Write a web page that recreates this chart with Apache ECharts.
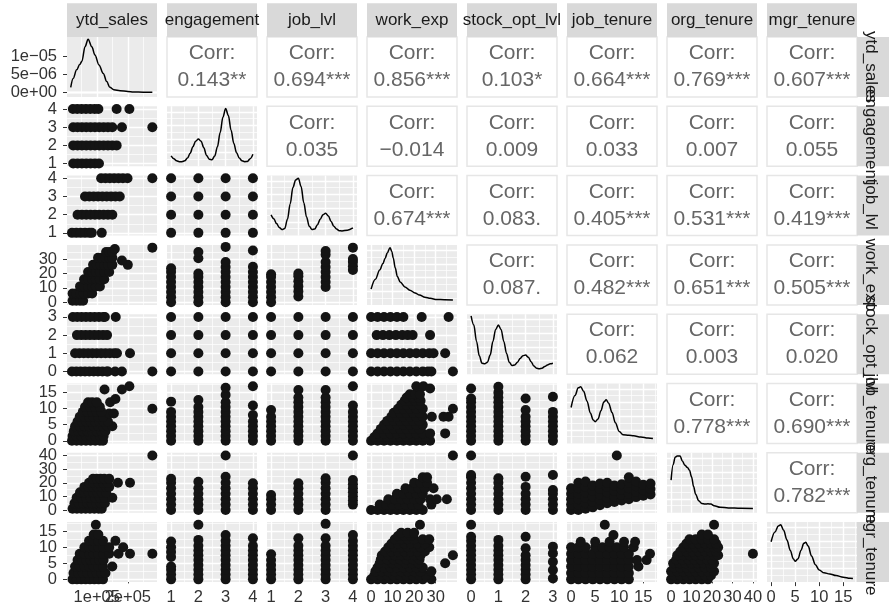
<!DOCTYPE html>
<html><head><meta charset="utf-8">
<script src="https://cdn.jsdelivr.net/npm/echarts@6/dist/echarts.min.js"></script>
<style>html,body{margin:0;padding:0;background:#fff}#c{width:889px;height:606px}</style>
</head><body><div id="c"></div>
<script>
const FONT = '"Liberation Sans", Arial, Helvetica, sans-serif';
const varNames = ['ytd_sales','engagement','job_lvl','work_exp','stock_opt_lvl','job_tenure','org_tenure','mgr_tenure'];
const axisRanges = [[4000,294000],[0.85,4.15],[0.85,4.15],[-1.9,39.9],[-0.15,3.15],[-0.85,17.85],[-2,42],[-0.85,17.85]];
const majorBreaks = [[1e5,2e5],[1,2,3,4],[1,2,3,4],[0,10,20,30],[0,1,2,3],[0,5,10,15],[0,10,20,30,40],[0,5,10,15]];
const minorBreaks = [[5e4,1.5e5,2.5e5],[1.5,2.5,3.5],[1.5,2.5,3.5],[5,15,25,35],[0.5,1.5,2.5],[2.5,7.5,12.5,17.5],[5,15,25,35],[2.5,7.5,12.5,17.5]];
const breakLabels = [['1e+05','2e+05'],['1','2','3','4'],['1','2','3','4'],['0','10','20','30'],['0','1','2','3'],['0','5','10','15'],['0','10','20','30','40'],['0','5','10','15']];
const densRange0 = [-1.32e-6, 1.553e-5];
const densMajor0 = [0, 5e-6, 1e-5];
const densMinor0 = [2.5e-6, 7.5e-6, 1.25e-5];
const densLabels0 = ['0e+00', '5e\u221206', '1e\u221205'];
const densRangeOther = [0, 1.1];
const densMajorOther = [0.25, 0.5, 0.75, 1.0];
const densMinorOther = [0.125, 0.375, 0.625, 0.875];

const corrLabels = [
  ['0.143**','0.694***','0.856***','0.103*','0.664***','0.769***','0.607***'],
  ['0.035','\u22120.014','0.009','0.033','0.007','0.055'],
  ['0.674***','0.083.','0.405***','0.531***','0.419***'],
  ['0.087.','0.482***','0.651***','0.505***'],
  ['0.062','0.003','0.020'],
  ['0.778***','0.690***'],
  ['0.782***']
];

// density curves (diagonal)
const dens_ytd = [[16e3,1.41e-6],[24e3,3.9e-6],[35e3,6.3e-6],[45e3,7.8e-6],[52e3,8.7e-6],[62e3,1.28e-5],[72e3,1.49e-5],[84e3,1.28e-5],[94e3,1.05e-5],[107e3,7.7e-6],[121e3,5.3e-6],[132e3,3.0e-6],[142e3,1.4e-6],[155e3,7e-7],[175e3,4.5e-7],[200e3,2.2e-7],[218e3,9e-8],[250e3,3e-8],[279e3,1e-8]];
const dens_eng = [[1.0,0.19],[1.1,0.14],[1.2,0.10],[1.3,0.085],[1.4,0.085],[1.5,0.10],[1.6,0.15],[1.7,0.24],[1.8,0.36],[1.9,0.46],[2.0,0.50],[2.1,0.46],[2.2,0.34],[2.3,0.20],[2.4,0.13],[2.5,0.12],[2.6,0.19],[2.7,0.36],[2.8,0.62],[2.9,0.90],[3.0,1.06],[3.1,0.93],[3.2,0.66],[3.3,0.42],[3.4,0.25],[3.5,0.15],[3.6,0.10],[3.7,0.085],[3.8,0.09],[3.9,0.14],[4.0,0.22]];
const dens_lvl = [[1.0,0.38],[1.1,0.31],[1.2,0.22],[1.3,0.15],[1.4,0.11],[1.5,0.13],[1.6,0.30],[1.7,0.58],[1.8,0.88],[1.9,1.02],[2.0,1.05],[2.1,0.90],[2.2,0.60],[2.3,0.34],[2.4,0.17],[2.5,0.11],[2.6,0.12],[2.7,0.20],[2.8,0.30],[2.9,0.38],[3.0,0.41],[3.1,0.36],[3.2,0.26],[3.3,0.17],[3.4,0.12],[3.5,0.09],[3.6,0.085],[3.8,0.10],[4.0,0.14]];
const dens_we = [[0,0.29],[2,0.47],[4,0.64],[5.5,0.76],[6.5,0.85],[7.5,0.95],[8.8,1.05],[9.6,0.98],[10.3,0.86],[11.2,0.68],[12.2,0.52],[13.5,0.42],[15.7,0.33],[18,0.27],[20.4,0.22],[22.5,0.18],[25,0.14],[27.5,0.12],[30.5,0.10],[34,0.095],[38,0.09]];
const dens_stock = [[0,1.07],[0.1,0.90],[0.2,0.60],[0.3,0.34],[0.4,0.20],[0.5,0.19],[0.6,0.22],[0.7,0.35],[0.8,0.60],[0.9,0.82],[1.0,0.90],[1.1,0.82],[1.2,0.60],[1.3,0.38],[1.4,0.22],[1.5,0.16],[1.6,0.17],[1.7,0.22],[1.8,0.29],[1.9,0.34],[2.0,0.35],[2.1,0.31],[2.2,0.23],[2.3,0.15],[2.4,0.11],[2.5,0.10],[2.6,0.11],[2.7,0.14],[2.8,0.17],[2.9,0.19],[3.0,0.20]];
const dens_jt = [[0,0.66],[0.8,0.88],[1.5,1.02],[2.0,1.04],[2.6,0.96],[3.3,0.78],[4.0,0.56],[4.6,0.43],[5.0,0.40],[5.6,0.45],[6.2,0.60],[6.8,0.76],[7.3,0.80],[7.8,0.74],[8.5,0.57],[9.2,0.38],[10.0,0.22],[10.8,0.16],[12,0.15],[13,0.14],[14.5,0.12],[16,0.10],[17,0.09]];
const dens_org = [[0,0.60],[1,0.88],[2,1.02],[3,1.04],[4.4,1.04],[5.5,0.95],[6.8,0.87],[8,0.83],[9,0.78],[10,0.66],[11,0.48],[12,0.34],[13.5,0.22],[15,0.17],[16.6,0.16],[18,0.165],[19.5,0.16],[21,0.13],[24,0.10],[28,0.09],[34,0.083],[40,0.08]];
const dens_mgr = [[0,0.74],[0.8,0.92],[1.5,1.03],[2.0,1.05],[2.6,0.95],[3.3,0.77],[4.0,0.58],[4.6,0.43],[5.0,0.38],[5.6,0.43],[6.2,0.58],[6.8,0.71],[7.2,0.73],[7.7,0.66],[8.4,0.48],[9.2,0.32],[10,0.22],[11,0.17],[12.2,0.15],[13.5,0.12],[15,0.09],[16.4,0.07],[17,0.065]];
const diagCurves = [dens_ytd, dens_eng, dens_lvl, dens_we, dens_stock, dens_jt, dens_org, dens_mgr];

// scatter panels. 'row' groups: [y, [x...]]; 'col' groups: [x, [y...]]
const eng_ytd = [[4,[23e3,37e3,51e3,65e3,79e3,93e3,105e3,164e3,205e3]],[3,[24e3,38e3,52e3,66e3,80e3,94e3,108e3,122e3,136e3,150e3,181e3,279e3]],[2,[24e3,38e3,52e3,66e3,80e3,94e3,108e3,122e3,136e3,150e3,164e3]],[1,[24e3,38e3,52e3,66e3,80e3,94e3,107e3]]];
const lvl_ytd = [[4,[114e3,128e3,142e3,156e3,170e3,184e3,199e3,279e3]],[3,[62e3,76e3,90e3,104e3,118e3,132e3,146e3,160e3,174e3]],[2,[38e3,52e3,66e3,80e3,94e3,108e3,122e3,136e3,150e3]],[1,[20e3,34e3,48e3,62e3,76e3,84e3,116e3]]];
const we_ytd = [[1,[22e3,34e3,46e3,56e3]],[6,[22e3,34e3,46e3,58e3,72e3,85e3]],[11,[46e3,58e3,72e3,85e3,97e3,110e3]],[16,[59e3,72e3,85e3,97e3,110e3,124e3]],[21,[72e3,85e3,97e3,110e3,124e3,140e3]],[26,[88e3,100e3,112e3,124e3,136e3,150e3,200e3]],[31,[104e3,116e3,128e3,140e3,150e3]],[35,[130e3,140e3,150e3]],[37,[158e3]],[29,[181e3]],[38,[279e3]]];
const stock_ytd = [[3,[23e3,37e3,51e3,65e3,79e3,93e3,107e3,121e3,126e3,161e3]],[2,[36e3,50e3,64e3,78e3,92e3,106e3,120e3,133e3]],[1,[30e3,44e3,58e3,72e3,86e3,100e3,114e3,128e3,142e3,156e3,165e3,207e3]],[0,[20e3,34e3,48e3,62e3,76e3,90e3,104e3,118e3,132e3,136e3,159e3,181e3,279e3]]];
const jt_ytd = [[0,[20e3,35e3,50e3,65e3,80e3,95e3,110e3,120e3]],[1.5,[22e3,35e3,50e3,65e3,80e3,95e3,110e3,122e3]],[3,[26e3,40e3,55e3,70e3,85e3,100e3,115e3,128e3]],[4.5,[30e3,45e3,60e3,75e3,90e3,105e3,120e3,135e3,150e3]],[6,[38e3,52e3,66e3,80e3,94e3,108e3,122e3,136e3]],[7.5,[45e3,60e3,75e3,90e3,105e3,120e3]],[8.5,[140e3,155e3]],[9,[55e3,70e3,85e3,100e3,115e3]],[10.5,[62e3,78e3,94e3,110e3]],[12,[72e3,85e3,100e3,143e3]],[13,[160e3]],[16,[125e3,181e3]],[17,[205e3]],[10,[279e3]]];
const org_ytd = [[1,[22e3,36e3,50e3,64e3,78e3,92e3,106e3,116e3]],[5,[28e3,42e3,56e3,70e3,84e3,98e3,112e3,126e3]],[9,[35e3,50e3,65e3,80e3,95e3,110e3,125e3,150e3]],[13,[46e3,60e3,74e3,88e3,102e3,116e3,130e3]],[17,[60e3,74e3,88e3,102e3,116e3,130e3,140e3]],[20,[75e3,90e3,105e3,120e3,135e3,168e3,207e3]],[23,[88e3,100e3,112e3,124e3,140e3]],[40,[279e3]]];
const mgr_ytd = [[0,[22e3,36e3,50e3,64e3,78e3,92e3,106e3,120e3]],[2,[25e3,40e3,55e3,70e3,85e3,100e3,115e3,128e3]],[4,[30e3,45e3,60e3,75e3,90e3,105e3,120e3,150e3]],[6,[38e3,52e3,66e3,80e3,94e3,108e3,122e3]],[8,[45e3,60e3,75e3,90e3,105e3,120e3,140e3,170e3,207e3,279e3]],[10,[60e3,75e3,90e3,105e3,120e3,140e3,185e3]],[12,[75e3,90e3,105e3,120e3,160e3]],[14,[90e3,105e3]],[17,[97e3]]];

const lvl_eng = [[1,[1,2,3,4]],[2,[1,2,3,4]],[3,[1,2,3,4]],[4,[1,2,3,4]]];
const we_eng = [[1,[0,3.5,7,10.5,14,17.5,21,23.6]],[2,[0,3.5,7,10.5,14,17.5,20,30.6,35]],[3,[0,3.5,7,10.5,14,17.5,21,24.5,28,38.5]],[4,[0,3.5,7,10.5,14,17.5,21,24.7,36]]];
const stock_eng = [[1,[0,1,2,3]],[2,[0,1,2,3]],[3,[0,1,2,3]],[4,[0,1,2,3]]];
const jt_eng = [[1,[0,1.5,3,4.5,6,7.5,9,12.2]],[2,[0,1.5,3,4.5,6,7.5,9,10.5,12.7]],[3,[0,1.5,3,4.5,6,7.5,9,10.5,12,14.3,16.5]],[4,[0,1.5,3,4.5,6,8,11,17]]];
const org_eng = [[1,[0,4,8,12,16,20,23]],[2,[0,4,8,12,16,20.8]],[3,[0,4,8,12,16,20,24.5,40]],[4,[0,4,8,12,16,19.6]]];
const mgr_eng = [[1,[0,1.5,3,4,7,8.5,10,11.8]],[2,[0,1.5,3,4.5,6,7.5,9,10.5,12.3,17]],[3,[0,1.5,3,4.5,6,7.5,9,10.5,12,13.8]],[4,[0,1.5,3,4.5,6,7.5,9,10.5,12.8]]];

const we_lvl = [[1,[0,3.5,7,10.5,14,17.5,19.4]],[2,[4,7.5,11,14.5,18,20]],[3,[10.6,14,17.5,21,24.5,28,33,35.6]],[4,[22.4,25,28,30,38]]];
const stock_lvl = [[1,[0,1,2,3]],[2,[0,1,2,3]],[3,[0,1,2,3]],[4,[0,1,2,3]]];
const jt_lvl = [[1,[0,1.5,3,4.5,6,7.5,9.6]],[2,[0,1.5,3,4.5,6,7.5,9,10.5,12,13.5,15.8]],[3,[0,1.5,3,4.5,6,7.5,9,10.5,12,13.5,15.8]],[4,[0,1.5,3,4.5,6,7.5,9,11,17]]];
const org_lvl = [[1,[0,4,8,11]],[2,[0,4,8,12,16,19.6]],[3,[0,4,8,12,16,20,23.3]],[4,[4,7,10,13,16,19,22,40]]];
const mgr_lvl = [[1,[0,1.5,3,4.5,6,7.8]],[2,[0,1.5,3,4.5,6,7.5,9,10.5,12.8]],[3,[0,1.5,3,4.5,6,7.5,9,10.5,12.8,17.3]],[4,[0,1.5,3,4.5,6,7.5,9,10.5,12,13.8]]];

const stock_we = [[3,[0,3,6,9,12,15,23.5,36]],[2,[2.6,5.5,8.5,11.5,14.5,17,19.3,27.4]],[1,[0,3,6,9,12,15,18,21,24,27,29,34.4]],[0,[0,3,6,9,12,15,18,21,24,26.4,28,38]]];
const jt_we = [[0,[0,3,6,9,12,15,18,21,24,27.4]],[1.2,[1.5,4.5,7.5,10.5,13.5,16.5,19.5,22.5,25.5]],[2.3,[3,6,9,12,15,18,21,24,27.4,34.4]],[3.7,[4.5,7.5,10.5,13.5,16.5,19.5,22.5]],[5,[6,9,12,15,18,21,24]],[6.2,[7.5,10.5,13.5,16.5,19.5,22.5]],[7.5,[9.4,12,15,18,21,24,28.2,33.6,36]],[8.7,[10.5,13.5,16.5,19.5,22.5]],[10,[12.5,15,18,21,24,38]],[11.2,[14,16.5,19.5,22.5]],[12.5,[15.6,18,20.5,23]],[13.5,[16.5,19.5,22]],[14.5,[18,20.5,22.7]],[17,[21,24.3]],[16.3,[27.4]]];
const org_we = [[0,[0,3,6,9,12,15,18,21,24]],[4,[4,7,10,13,16,19,22,28]],[8,[8,11,14,17,20,23,27.4,30.5,35.2]],[12,[12,15,18,21,24]],[16,[16,19,22,25,29]],[20,[20,23,26]],[24,[24,26]],[40,[38]]];
const mgr_we = [[0,[0,3,6,9,12,15,18,21,24,28]],[1.2,[1.5,4.5,7.5,10.5,13.5,16.5,19.5,22.5,25.5]],[2.5,[2,5,8,11,14,17,20,23,28]],[3.7,[3,6,9,12,15,18,21,24]],[5,[4,7,10,13,16,19,22,34.4]],[6.2,[4.5,7.5,10.5,13.5,16.5,19.5,22.5]],[7.5,[5,8,11,14,17,20,23,38]],[8.7,[6.5,9.5,12.5,15.5,18.5,21.5,25]],[10,[8,11,14,17,20,23,27]],[11.2,[9.5,12.5,15.5,18.5,21.5,25]],[12.5,[11,14,17,20,24,27]],[13.5,[12.5,15.5,18.5]],[14.5,[14,17,20]],[17,[22.7]]];

const jt_stock = [[0,[0,1.5,3,4.5,6,7.5,9,10.5,12,13.2,16.3]],[1,[0,1.5,3,4.5,6,7.5,9,10.5,12,13.5,15,16.8]],[2,[0,1.5,3,4.5,6,7.5,9.6,13.2]],[3,[0,1.5,3,4.5,6,7.5,9,13.7]]];
const org_stock = [[0,[0,4,8,12,16,20,24,25.7,40]],[1,[0,4,8,12,16,20,23.3]],[2,[0,4,8,12,17,24.5]],[3,[0,4,8,12,14.7,25.7]]];
const mgr_stock = [[0,[0,1.5,3,4.5,6,7.5,9,10.5,12,13.3,17]],[1,[0,1.5,3,4.5,6,7.5,9,10.5,12.3]],[2,[0,1.5,3,4.5,6,7.5,9.7,13.3]],[3,[0.3,2.9,5.5,8.1,10.2]]];

const org_jt = [[0,[0,4,8,12,16]],[1.5,[0,4,8,12,16,20]],[3,[1,5,9,13,17,21]],[4.5,[2,6,10,14,18]],[6,[3.5,7.5,11.5,15.5,19.5]],[7.5,[5,9,13,17,20]],[9,[6,10,14,18]],[9.5,[40]],[10.5,[7,11,15,19]],[12,[8,12,16,20,24]],[13.5,[9.5,13.5,17.5,21]],[15,[10.5,14.5,18.5]],[16.5,[11.5,15.5,19.5]]];
const mgr_jt = [[0,[0,1.5,3,4.5,6,7.5,9,10.5,12]],[2,[0,1.5,3,4.5,6,7.5,9,10.5,12]],[4,[0,1.5,3,4.5,6,7.5,9,10.5,12,14]],[6,[0,1.5,3,4.5,6,7.5,9,10.5,12,13.7,15.7]],[8,[0,1.5,3,4.5,6,7.5,9,10.5,12,16.4]],[10,[0,1.5,3,5,6.5,8,9.5,11,13]],[11.7,[2,5,8,11,13.3]],[13.8,[8.8]],[17,[7]]];
const mgr_org = [[0,[0,3,6,9,12,15,18]],[1.2,[1.5,4.5,7.5,10.5,13.5,16.5,19.5]],[2.5,[0,3,6,9,12,15,18,21]],[3.7,[1.5,4.5,7.5,10.5,13.5,16.5,19.5]],[5,[1,4,7,10,13,16,19,21]],[6.2,[2.5,5.5,8.5,11.5,14.5,17.5,20]],[7.5,[3,6,9,12,15,18,21,23]],[8,[40]],[8.7,[4.5,7.5,10.5,13.5,16.5,19.5,22]],[10,[6,9,12,15,18,21,23]],[11.2,[7.5,10.5,13.5,16.5,19.5,22]],[12.5,[9,12,15,18,21]],[14,[15,18]],[17,[21]]];

const lowerPanels = [
  [1,0,eng_ytd,'row'],[2,0,lvl_ytd,'row'],[3,0,we_ytd,'row'],[4,0,stock_ytd,'row'],[5,0,jt_ytd,'row'],[6,0,org_ytd,'row'],[7,0,mgr_ytd,'row'],
  [2,1,lvl_eng,'col'],[3,1,we_eng,'col'],[4,1,stock_eng,'col'],[5,1,jt_eng,'col'],[6,1,org_eng,'col'],[7,1,mgr_eng,'col'],
  [3,2,we_lvl,'col'],[4,2,stock_lvl,'col'],[5,2,jt_lvl,'col'],[6,2,org_lvl,'col'],[7,2,mgr_lvl,'col'],
  [4,3,stock_we,'row'],[5,3,jt_we,'row'],[6,3,org_we,'row'],[7,3,mgr_we,'row'],
  [5,4,jt_stock,'col'],[6,4,org_stock,'col'],[7,4,mgr_stock,'col'],
  [6,5,org_jt,'col'],[7,5,mgr_jt,'row'],
  [7,6,mgr_org,'row']
];

// layout
const colLeft = 67, colStep = 100, panelW = 90;
const rowTop = 37, rowStep = 69.3, panelH = 60;

function toPoints(groups, orient) {
  const pts = [];
  groups.forEach(g => g[1].forEach(v => pts.push(orient === 'row' ? [v, g[0]] : [g[0], v])));
  return pts;
}
function makeAxis(idx, range, showTicks, breaks) {
  return {
    gridIndex: idx, type: 'value', min: range[0], max: range[1],
    axisLine: {show: false},
    axisTick: {show: showTicks, interval: 0, customValues: breaks, length: 4, lineStyle: {color: '#333333', width: 1}},
    axisLabel: {show: false},
    splitLine: {show: false}
  };
}

const grids = [], xAxes = [], yAxes = [], series = [], graphics = [];
const yInfo = [];
for (let i = 0; i < 8; i++) for (let j = 0; j < 8; j++) {
  const idx = i * 8 + j;
  const upper = j > i, diag = i === j;
  grids.push({left: colLeft + j * colStep, top: rowTop + i * rowStep, width: panelW, height: panelH, show: true,
    backgroundColor: upper ? '#FFFFFF' : '#EBEBEB', borderColor: upper ? '#E6E6E6' : 'rgba(0,0,0,0)', borderWidth: upper ? 1.5 : 0});
  if (upper) {
    xAxes.push({gridIndex: idx, type: 'value', min: 0, max: 1, show: false});
    yAxes.push({gridIndex: idx, type: 'value', min: 0, max: 1, show: false});
    continue;
  }
  const yr = diag ? (i === 0 ? densRange0 : densRangeOther) : axisRanges[i];
  const yMaj = diag ? (i === 0 ? densMajor0 : densMajorOther) : majorBreaks[i];
  const yMin = diag ? (i === 0 ? densMinor0 : densMinorOther) : minorBreaks[i];
  const yLab = diag ? (i === 0 ? densLabels0 : null) : breakLabels[i];
  if (j === 0) yInfo.push({idx, yMaj, yLab, xMin: axisRanges[0][0]});
  xAxes.push(makeAxis(idx, axisRanges[j], i === 7, majorBreaks[j]));
  yAxes.push(makeAxis(idx, yr, j === 0, yMaj));
  const ml = [];
  minorBreaks[j].forEach(v => ml.push({xAxis: v, lineStyle: {color: '#FFFFFF', width: 0.7, type: 'solid'}}));
  yMin.forEach(v => ml.push({yAxis: v, lineStyle: {color: '#FFFFFF', width: 0.7, type: 'solid'}}));
  majorBreaks[j].forEach(v => ml.push({xAxis: v, lineStyle: {color: '#FFFFFF', width: 1.4, type: 'solid'}}));
  yMaj.forEach(v => ml.push({yAxis: v, lineStyle: {color: '#FFFFFF', width: 1.4, type: 'solid'}}));
  series.push({type: 'scatter', xAxisIndex: idx, yAxisIndex: idx, data: [], silent: true, z: 1,
    markLine: {silent: true, z: 1, symbol: ['none', 'none'], label: {show: false}, animation: false,
      lineStyle: {type: 'solid', color: '#FFFFFF'}, emphasis: {disabled: true}, data: ml}});
  if (diag) {
    series.push({type: 'line', xAxisIndex: idx, yAxisIndex: idx, data: diagCurves[i], smooth: 0.35, smoothMonotone: 'x',
      showSymbol: false, silent: true, z: 10, lineStyle: {color: '#000000', width: 1.5}});
  }
}
lowerPanels.forEach(p => {
  const idx = p[0] * 8 + p[1];
  series.push({type: 'scatter', xAxisIndex: idx, yAxisIndex: idx, data: toPoints(p[2], p[3]), symbolSize: 10,
    silent: true, z: 10, itemStyle: {color: '#141414', opacity: 1}});
});

// strips
for (let j = 0; j < 8; j++) {
  graphics.push({type: 'rect', z: 5, shape: {x: colLeft + j * colStep, y: 3.3, width: panelW, height: 33.7}, style: {fill: '#D9D9D9'}});
  graphics.push({type: 'text', z: 6, x: colLeft + j * colStep + panelW / 2, y: 20.5,
    style: {text: varNames[j], textAlign: 'center', textVerticalAlign: 'middle', verticalAlign: 'middle', fontSize: 17, fontFamily: FONT, fill: '#1A1A1A'}});
}
for (let i = 0; i < 8; i++) {
  graphics.push({type: 'rect', z: 5, shape: {x: 857, y: rowTop + i * rowStep, width: 34, height: panelH}, style: {fill: '#D9D9D9'}});
}
for (let i = 0; i < 8; i++) {
  graphics.push({type: 'text', z: 6, x: 871, y: rowTop + i * rowStep + panelH / 2, rotation: -Math.PI / 2,
    style: {text: varNames[i], textAlign: 'center', textVerticalAlign: 'middle', verticalAlign: 'middle', fontSize: 17, fontFamily: FONT, fill: '#1A1A1A'}});
}
// correlation text
for (let i = 0; i < 7; i++) for (let j = i + 1; j < 8; j++) {
  const cx = colLeft + j * colStep + panelW / 2, cy = rowTop + i * rowStep + panelH / 2;
  graphics.push({type: 'text', z: 6, x: cx, y: cy - 13.5,
    style: {text: 'Corr:', textAlign: 'center', textVerticalAlign: 'middle', verticalAlign: 'middle', fontSize: 21, fontFamily: FONT, fill: '#666666'}});
  graphics.push({type: 'text', z: 6, x: cx, y: cy + 13.5,
    style: {text: corrLabels[i][j - i - 1], textAlign: 'center', textVerticalAlign: 'middle', verticalAlign: 'middle', fontSize: 21, fontFamily: FONT, fill: '#666666'}});
}

const chart = echarts.init(document.getElementById('c'), null, {renderer: 'canvas'});
chart.setOption({
  animation: false,
  backgroundColor: '#FFFFFF',
  textStyle: {fontFamily: FONT},
  grid: grids, xAxis: xAxes, yAxis: yAxes, series: series
});

// tick labels placed through the library's own axis scales
const labelStyle = {fontSize: 16.5, fontFamily: FONT, fill: '#333333'};
yInfo.forEach(info => {
  if (!info.yLab) return;
  info.yMaj.forEach((v, n) => {
    const p = chart.convertToPixel({gridIndex: info.idx}, [info.xMin, v]);
    graphics.push({type: 'text', z: 6, x: p[0] - 10, y: p[1],
      style: Object.assign({text: info.yLab[n], textAlign: 'right', textVerticalAlign: 'middle', verticalAlign: 'middle'}, labelStyle)});
  });
});
for (let j = 0; j < 8; j++) {
  const idx = 7 * 8 + j;
  const yBottom = (j === 7 ? densRangeOther : axisRanges[7])[0];
  majorBreaks[j].forEach((v, n) => {
    const p = chart.convertToPixel({gridIndex: idx}, [v, yBottom]);
    graphics.push({type: 'text', z: 6, x: p[0], y: p[1] + 7,
      style: Object.assign({text: breakLabels[j][n], textAlign: 'center', textVerticalAlign: 'top', verticalAlign: 'top'}, labelStyle)});
  });
}
chart.setOption({graphic: graphics});
</script></body></html>
